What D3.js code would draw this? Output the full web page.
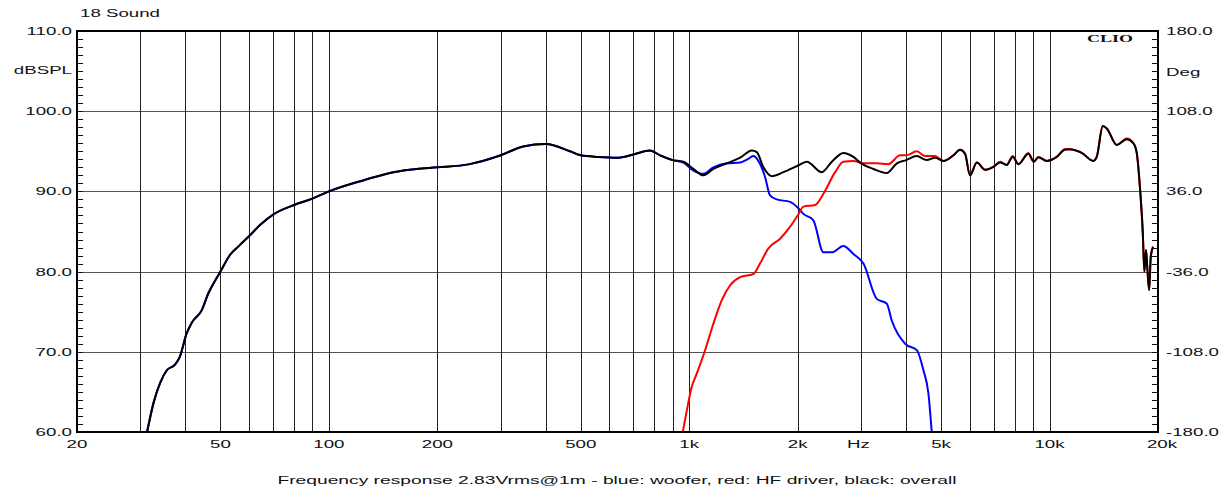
<!DOCTYPE html>
<html>
<head>
<meta charset="utf-8">
<script src="https://cdn.jsdelivr.net/npm/d3@7"></script>
<style>
  html, body { margin: 0; padding: 0; background: #fff; }
  text { font-family: "Liberation Sans", Arial, sans-serif; fill: #111; }
</style>
</head>
<body>
<svg id="chart" width="1232" height="491"></svg>
<script>
// values: [frequency Hz, dB SPL]
var overall = [
  [31.3, 60.0], [32.6, 63.6], [34.0, 66.1], [35.5, 67.7], [37.4, 68.4], [38.6, 69.4],
  [40.3, 72.3], [41.6, 73.6], [44.4, 75.2], [46.3, 77.3], [48.8, 79.2], [50, 80.0],
  [53.2, 82.1], [56.6, 83.3], [60, 84.4], [64.4, 85.8], [70, 87.1], [80, 88.3],
  [90, 89.1], [100, 90.0], [125, 91.4], [151, 92.4], [175, 92.8], [200, 93.0],
  [246, 93.4], [300, 94.5], [346, 95.6], [400, 95.9], [467, 95.0], [500, 94.5],
  [560, 94.3], [630, 94.2], [700, 94.6], [778, 95.1], [830, 94.5], [900, 93.9],
  [963, 93.7], [1027, 92.8], [1095, 92.0], [1167, 92.8], [1272, 93.5], [1385, 94.2],
  [1492, 95.1], [1540, 94.9], [1607, 93.0], [1695, 91.9], [1826, 92.4], [2000, 93.2],
  [2120, 93.7], [2333, 92.4], [2488, 93.7], [2678, 94.8], [2856, 94.3], [3000, 93.5],
  [3246, 92.8], [3535, 92.3], [3770, 93.5], [4000, 93.9], [4282, 94.4], [4563, 93.9],
  [4813, 94.2], [5076, 93.8], [5411, 94.5], [5645, 95.2], [5829, 94.7], [6016, 92.0],
  [6284, 93.6], [6625, 92.7], [7000, 93.1], [7290, 93.6], [7606, 93.3], [7904, 94.3],
  [8198, 93.4], [8734, 94.7], [9045, 93.7], [9311, 94.25], [9825, 93.8], [10472, 94.3],
  [11041, 95.2], [11397, 95.25], [12290, 94.8], [13233, 93.8], [13520, 94.3], [14052, 98.15],
  [14417, 97.85], [15367, 95.8], [16383, 96.5], [17100, 96.0], [17467, 94.75], [17840, 90.2],
  [18150, 84.8], [18330, 80.0], [18520, 82.7], [18670, 80.6], [18900, 77.7], [19100, 81.9],
  [19380, 83.1]
];

var woofer = [
  [31.3, 60.0], [32.6, 63.6], [34.0, 66.1], [35.5, 67.7], [37.4, 68.4], [38.6, 69.4],
  [40.3, 72.3], [41.6, 73.6], [44.4, 75.2], [46.3, 77.3], [48.8, 79.2], [50, 80.0],
  [53.2, 82.1], [56.6, 83.3], [60, 84.4], [64.4, 85.8], [70, 87.1], [80, 88.3],
  [90, 89.1], [100, 90.0], [125, 91.4], [151, 92.4], [175, 92.8], [200, 93.0],
  [246, 93.4], [300, 94.5], [346, 95.6], [400, 95.9], [467, 95.0], [500, 94.5],
  [560, 94.3], [630, 94.2], [700, 94.6], [778, 95.1], [830, 94.5], [900, 93.9],
  [963, 93.6], [1027, 92.6], [1095, 92.2], [1167, 93.0], [1272, 93.5], [1385, 93.6],
  [1450, 94.0], [1507, 94.4], [1551, 93.9], [1624, 91.8], [1676, 89.5], [1750, 89.0],
  [1906, 88.7], [2000, 88.0], [2075, 87.2], [2211, 86.4], [2357, 82.4], [2488, 82.4],
  [2678, 83.2], [2856, 82.2], [3045, 81.0], [3316, 76.6], [3535, 76.0], [3649, 73.9],
  [3974, 71.0], [4282, 70.2], [4467, 67.7], [4612, 64.8], [4711, 60.0]
];

var hfDriver = [
  [960, 60.0], [985, 62.7], [1016, 65.6], [1050, 67.3], [1107, 70.2], [1167, 73.5],
  [1231, 76.4], [1299, 78.3], [1385, 79.3], [1507, 79.7], [1572, 81.0], [1659, 82.9],
  [1788, 84.1], [1906, 85.6], [2000, 87.0], [2075, 88.1], [2236, 88.3], [2357, 89.7],
  [2541, 92.4], [2678, 93.7], [2856, 93.8], [3045, 93.5], [3316, 93.5], [3570, 93.4],
  [3849, 94.5], [4000, 94.5], [4282, 95.0], [4516, 94.4], [4813, 94.4], [5076, 93.8],
  [5411, 94.5], [5645, 95.2], [5829, 94.7], [6016, 92.0], [6284, 93.6], [6625, 92.7],
  [7000, 93.1], [7290, 93.7], [7606, 93.3], [7904, 94.4], [8198, 93.4], [8734, 94.8],
  [9045, 93.7], [9311, 94.3], [9825, 93.8], [10472, 94.3], [11041, 95.3], [11397, 95.25],
  [12290, 94.8], [13233, 93.8], [13520, 94.3], [14052, 98.15], [14417, 97.85], [15367, 95.8],
  [16383, 96.6], [17100, 96.0], [17467, 94.75], [17840, 90.2], [18150, 84.8], [18330, 80.0],
  [18520, 82.7], [18670, 80.6], [18900, 77.7], [19100, 81.9], [19380, 83.1]
];

var freqTicks = [20, 50, 100, 200, 500, 1000, 2000, 5000, 10000, 20000];
var freqTickLabels = ["20", "50", "100", "200", "500", "1k", "2k", "5k", "10k", "20k"];
var dbTicks = [60, 70, 80, 90, 100, 110];
var dbTickLabels = ["60.0", "70.0", "80.0", "90.0", "100.0", "110.0"];
var degTickLabels = ["-180.0", "-108.0", "-36.0", "36.0", "108.0", "180.0"];
var gridFreqs = [30, 40, 50, 60, 70, 80, 90, 100, 200, 300, 400, 500, 600, 700, 800, 900,
  1000, 2000, 3000, 4000, 5000, 6000, 7000, 8000, 9000, 10000];

var plotLeft = 77, plotRight = 1158, plotTop = 31, plotBottom = 432;
var svg = d3.select('#chart');

var x = d3.scaleLog().domain([20, 20000]).range([plotLeft, plotRight]);
var y = d3.scaleLinear().domain([60, 110]).range([plotBottom, plotTop]);

// stretched text, the original font is wide
function label(px, py, str, anchor, sx) {
  return svg.append('text')
    .attr('transform', 'translate(' + px + ',' + py + ') scale(' + (sx || 1.7) + ',1)')
    .attr('text-anchor', anchor || 'start')
    .style('font-size', '11px')
    .text(str);
}

// grid
svg.append('g').selectAll('line')
  .data(d3.range(70, 110, 10))
  .enter().append('line')
  .attr('x1', plotLeft).attr('x2', plotRight)
  .attr('y1', function (d) { return Math.round(y(d)) + 0.5; })
  .attr('y2', function (d) { return Math.round(y(d)) + 0.5; })
  .attr('stroke', '#555').attr('stroke-width', 1);

svg.append('g').selectAll('line')
  .data(gridFreqs)
  .enter().append('line')
  .attr('x1', function (d) { return Math.round(x(d)) + 0.5; })
  .attr('x2', function (d) { return Math.round(x(d)) + 0.5; })
  .attr('y1', plotTop).attr('y2', plotBottom)
  .attr('stroke', '#222').attr('stroke-width', 1);

// minor ticks, every 1 dB on both sides
var minor = d3.range(60, 111, 1);
svg.append('g').selectAll('line')
  .data(minor)
  .enter().append('line')
  .attr('x1', plotLeft).attr('x2', plotLeft + 6)
  .attr('y1', function (d) { return Math.round(y(d)) + 0.5; })
  .attr('y2', function (d) { return Math.round(y(d)) + 0.5; })
  .attr('stroke', '#111');
svg.append('g').selectAll('line')
  .data(minor)
  .enter().append('line')
  .attr('x1', plotRight - 6).attr('x2', plotRight)
  .attr('y1', function (d) { return Math.round(y(d)) + 0.5; })
  .attr('y2', function (d) { return Math.round(y(d)) + 0.5; })
  .attr('stroke', '#111');

// curves
svg.append('clipPath').attr('id', 'plot-clip')
  .append('rect')
  .attr('x', plotLeft).attr('y', plotTop)
  .attr('width', plotRight - plotLeft).attr('height', plotBottom - plotTop);

var line = d3.line()
  .x(function (d) { return x(d[0]); })
  .y(function (d) { return y(d[1]); })
  .curve(d3.curveMonotoneX);

var series = [
  { data: woofer, color: '#0000ff' },
  { data: hfDriver, color: '#ff0000' },
  { data: overall, color: '#000000' }
];
svg.append('g').attr('clip-path', 'url(#plot-clip)')
  .selectAll('path')
  .data(series)
  .enter().append('path')
  .attr('d', function (d) { return line(d.data); })
  .attr('fill', 'none')
  .attr('stroke', function (d) { return d.color; })
  .attr('stroke-width', 2)
  .attr('stroke-linejoin', 'round');

// frame
svg.append('rect')
  .attr('x', plotLeft).attr('y', plotTop)
  .attr('width', plotRight - plotLeft).attr('height', plotBottom - plotTop)
  .attr('fill', 'none').attr('stroke', '#000').attr('stroke-width', 2);

// axis labels
dbTicks.forEach(function (d, i) {
  label(plotLeft - 5, y(d) + 4, dbTickLabels[i], 'end');
  label(plotRight + 8, y(d) + 4, degTickLabels[i], 'start');
});
freqTicks.forEach(function (d, i) {
  label(x(d) + (d === 20000 ? 4 : 0), plotBottom + 16, freqTickLabels[i], 'middle');
});
label(x(2950), plotBottom + 16, 'Hz', 'middle');
label(plotLeft - 5, 74, 'dBSPL', 'end');
label(plotRight + 8, 76, 'Deg', 'start');
label(80, 17, '18 Sound', 'start');
label(617, 484, 'Frequency response 2.83Vrms@1m - blue: woofer, red: HF driver, black: overall', 'middle', 1.75);

svg.append('text')
  .attr('transform', 'translate(1133,42) scale(1.8,1)')
  .attr('text-anchor', 'end')
  .style('font-family', '"Liberation Serif", "DejaVu Serif", serif')
  .style('font-weight', 'bold')
  .style('font-size', '10px')
  .text('CLIO');
</script>
</body>
</html>
